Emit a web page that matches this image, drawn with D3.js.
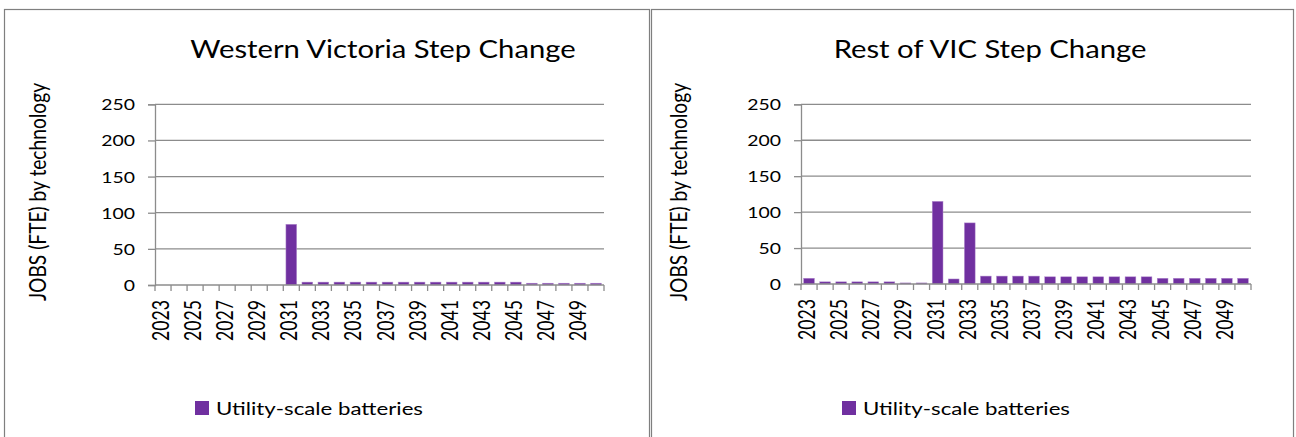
<!DOCTYPE html>
<html>
<head>
<meta charset="utf-8">
<script src="https://cdn.jsdelivr.net/npm/d3@7"></script>
<style>
  body { margin: 0; background: #fff; }
  svg { display: block; }
  text { font-family: Lato, "Open Sans", sans-serif; fill: #000; }
</style>
</head>
<body>
<div id="chart"></div>
<script>
// categories and series
const years = [2023, 2024, 2025, 2026, 2027, 2028, 2029, 2030, 2031, 2032, 2033, 2034, 2035, 2036,
  2037, 2038, 2039, 2040, 2041, 2042, 2043, 2044, 2045, 2046, 2047, 2048, 2049, 2050];
const westernVic = [0, 0, 0, 0, 0, 0, 0, 0, 84, 4, 4, 4, 4, 4, 4, 4, 4, 4, 4, 4, 4, 4, 4,
  2.5, 2.5, 2.5, 2.5, 2.5];
const restVic = [8, 3, 3, 3, 3, 3, 1.5, 1.5, 115, 7, 85, 11, 11, 11, 11, 10, 10, 10, 10, 10,
  10, 10, 8, 8, 8, 8, 8, 8];
const yTicks = [0, 50, 100, 150, 200, 250];
const seriesName = "Utility-scale batteries";
const yTitle = "JOBS (FTE) by technology";

const WIDTH = 1296,
  HEIGHT = 437,
  BAR_COLOR = "#7030a0",
  GRID_COLOR = "#8c8c8c",
  BORDER_COLOR = "#7f7f7f",
  STRETCH = 1.25; // glyphs in the picture are wider than tall

var svg = d3.select("#chart").append("svg")
  .attr("width", WIDTH)
  .attr("height", HEIGHT);

// panel borders
svg.append("rect")
  .attr("x", 4.5).attr("y", 9.5)
  .attr("width", 645).attr("height", HEIGHT)
  .attr("fill", "none").attr("stroke", BORDER_COLOR).attr("stroke-width", 1.2);
svg.append("rect")
  .attr("x", 651.5).attr("y", 9.5)
  .attr("width", 642).attr("height", HEIGHT)
  .attr("fill", "none").attr("stroke", BORDER_COLOR).attr("stroke-width", 1.2);

function stretchedText(g, x, y, str, size, anchor, rotate, sx) {
  var t = "translate(" + x + "," + y + ") scale(" + (sx || STRETCH) + ",1)";
  if (rotate) t += " rotate(" + rotate + ")";
  return g.append("text")
    .attr("transform", t)
    .attr("font-size", size)
    .attr("text-anchor", anchor)
    .text(str);
}

function drawPanel(cfg) {
  var g = svg.append("g");

  var x = d3.scaleBand()
    .domain(years)
    .range([cfg.left, cfg.right])
    .paddingInner(0.33)
    .paddingOuter(0.165);

  var y = d3.scaleLinear()
    .domain([0, 250])
    .range([cfg.bottom, cfg.top]);

  // gridlines
  g.append("g")
    .selectAll("line")
    .data(yTicks.slice(1))
    .enter()
    .append("line")
    .attr("x1", cfg.left).attr("x2", cfg.right)
    .attr("y1", function(d) { return y(d); })
    .attr("y2", function(d) { return y(d); })
    .attr("stroke", GRID_COLOR)
    .attr("stroke-width", 1.3);

  // y axis
  var yAxis = g.append("g")
    .attr("transform", "translate(" + cfg.left + ",0)")
    .call(d3.axisLeft(y).tickValues(yTicks).tickSize(7).tickFormat(""));
  yAxis.select(".domain").attr("stroke", GRID_COLOR).attr("stroke-width", 1.3);
  yAxis.selectAll(".tick line").attr("stroke", GRID_COLOR).attr("stroke-width", 1.3);

  yTicks.forEach(function(v) {
    stretchedText(g, cfg.left - 20, y(v) + 6, String(v), 15.5, "end");
  });

  // bars
  g.append("g")
    .selectAll("rect")
    .data(cfg.values)
    .enter()
    .append("rect")
    .attr("x", function(d, i) { return x(years[i]); })
    .attr("width", x.bandwidth())
    .attr("y", function(d) { return y(d); })
    .attr("height", function(d) { return y(0) - y(d); })
    .attr("fill", BAR_COLOR)
    .attr("stroke", "#b48fd0")
    .attr("stroke-width", 0.5);

  // x axis: ticks sit between categories
  var step = x.step();
  var xAxis = g.append("g")
    .attr("transform", "translate(0," + cfg.bottom + ")");
  xAxis.append("line")
    .attr("x1", cfg.left).attr("x2", cfg.right)
    .attr("stroke", GRID_COLOR).attr("stroke-width", 1.3);
  xAxis.selectAll(".xtick")
    .data(years.concat([null]))
    .enter()
    .append("line")
    .attr("class", "xtick")
    .attr("x1", function(d, i) { return cfg.left + i * step; })
    .attr("x2", function(d, i) { return cfg.left + i * step; })
    .attr("y1", 0).attr("y2", 6)
    .attr("stroke", GRID_COLOR).attr("stroke-width", 1.3);

  years.forEach(function(yr, i) {
    if (i % 2 !== 0) return;
    var cx = x(yr) + x.bandwidth() / 2 + 6;
    stretchedText(g, cx, cfg.bottom + 15, String(yr), 17.7, "end", -90);
  });

  // titles
  stretchedText(g, cfg.titleX, 58, cfg.title, 25, "middle", 0, 1.17);
  stretchedText(g, cfg.yTitleX, 192, yTitle, 19.2, "middle", -90);

  // legend
  g.append("rect")
    .attr("x", cfg.legendX).attr("y", 401)
    .attr("width", 14).attr("height", 14)
    .attr("fill", BAR_COLOR);
  stretchedText(g, cfg.legendX + 21, 414.5, seriesName, 17.8, "start");
}

drawPanel({
  title: "Western Victoria Step Change",
  values: westernVic,
  left: 155, right: 604, top: 104.3, bottom: 285,
  titleX: 383, yTitleX: 46, legendX: 195
});

drawPanel({
  title: "Rest of VIC Step Change",
  values: restVic,
  left: 801, right: 1251, top: 104.3, bottom: 284,
  titleX: 990, yTitleX: 687, legendX: 842
});
</script>
</body>
</html>
